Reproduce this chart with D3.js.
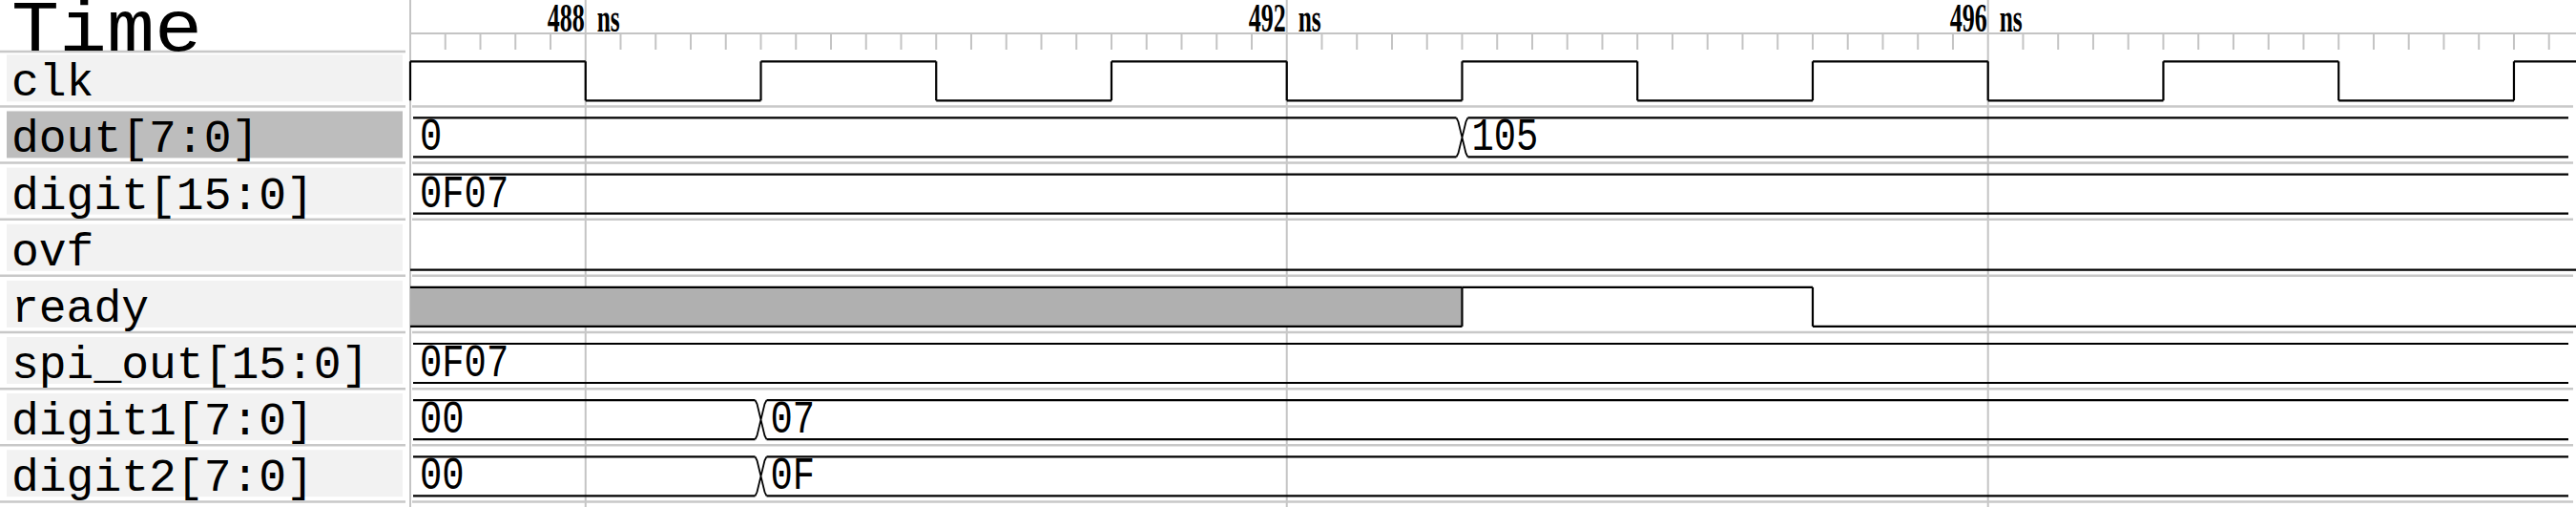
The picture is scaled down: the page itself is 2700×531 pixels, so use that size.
<!DOCTYPE html>
<html>
<head>
<meta charset="utf-8">
<script src="https://cdn.jsdelivr.net/npm/d3@7"></script>
<style>
  html, body { margin: 0; padding: 0; background: #fff; }
  svg { display: block; }
</style>
</head>
<body>
<svg id="chart" width="2700" height="531"></svg>
<script>
// ---- data ----
const signalNames = ["clk", "dout[7:0]", "digit[15:0]", "ovf", "ready", "spi_out[15:0]", "digit1[7:0]", "digit2[7:0]"];
const signalKinds = ["bit", "bus", "bus", "bit", "bit", "bus", "bus", "bus"];
const clkTimes   = [487, 488, 489, 490, 491, 492, 493, 494, 495, 496, 497, 498, 499];
const clkValues  = [1, 0, 1, 0, 1, 0, 1, 0, 1, 0, 1, 0, 1];
const doutTimes  = [487, 493];
const doutValues = ["0", "105"];
const digitTimes = [487];
const digitValues = ["0F07"];
const ovfTimes   = [487];
const ovfValues  = [0];
const readyTimes = [487, 493, 495];
const readyValues = ["x", 1, 0];
const spiTimes   = [487];
const spiValues  = ["0F07"];
const digit1Times = [487, 489];
const digit1Values = ["00", "07"];
const digit2Times = [487, 489];
const digit2Values = ["00", "0F"];
const majorTicks = [488, 492, 496];
const tickUnit = "ns";
const timeStart = 487;
const timeEnd = 499.354;
const minorStep = 0.2;
const selectedSignal = "dout[7:0]";

const signalTimes = [clkTimes, doutTimes, digitTimes, ovfTimes, readyTimes, spiTimes, digit1Times, digit2Times];
const signalValues = [clkValues, doutValues, digitValues, ovfValues, readyValues, spiValues, digit1Values, digit2Values];

// ---- layout ----
const W = 2700, H = 531;
const divX = 430;
const headerH = 52.3;
const rowH = 59.14;
const svg = d3.select("#chart");
const x = d3.scaleLinear().domain([timeStart, timeEnd]).range([divX, W]);
const rowTop = i => headerH + i * rowH;
const yHi = i => rowTop(i) + 12;
const yLo = i => rowTop(i) + 53;

const gridCol = "#c4c4c4";
const sepCol = "#c8c8c8";

// label backgrounds
signalNames.forEach((name, i) => {
  svg.append("rect")
    .attr("x", 7).attr("y", rowTop(i) + 5)
    .attr("width", 415).attr("height", 49)
    .attr("fill", name === selectedSignal ? "#bdbdbd" : "#f2f2f2");
});

// vertical major gridlines
svg.selectAll("line.grid").data(majorTicks).enter().append("line")
  .attr("class", "grid")
  .attr("x1", d => x(d)).attr("x2", d => x(d))
  .attr("y1", 0).attr("y2", H)
  .attr("stroke", gridCol).attr("stroke-width", 2);

// divider
svg.append("line").attr("x1", divX).attr("x2", divX).attr("y1", 0).attr("y2", H)
  .attr("stroke", gridCol).attr("stroke-width", 2);

// ruler line
svg.append("line").attr("x1", divX).attr("x2", W).attr("y1", 35).attr("y2", 35)
  .attr("stroke", gridCol).attr("stroke-width", 2);

// minor ticks
const nMinor = Math.floor((timeEnd - timeStart) / minorStep);
const minorTicks = d3.range(1, nMinor + 1).map(k => timeStart + k * minorStep)
  .filter(t => !majorTicks.some(m => Math.abs(m - t) < 1e-6));
svg.selectAll("line.minor").data(minorTicks).enter().append("line")
  .attr("class", "minor")
  .attr("x1", d => x(d)).attr("x2", d => x(d))
  .attr("y1", 36).attr("y2", 52)
  .attr("stroke", gridCol).attr("stroke-width", 2);

// major tick labels
majorTicks.forEach(t => {
  const label = String(t);
  svg.append("text")
    .attr("x", x(t) - 40).attr("y", 33)
    .attr("textLength", 13 * label.length)
    .attr("lengthAdjust", "spacingAndGlyphs")
    .attr("font-family", "Liberation Serif, serif")
    .attr("font-weight", "bold")
    .attr("font-size", 42)
    .attr("fill", "#000")
    .text(label);
  svg.append("text")
    .attr("x", x(t) + 12).attr("y", 33)
    .attr("textLength", 24)
    .attr("lengthAdjust", "spacingAndGlyphs")
    .attr("font-family", "Liberation Serif, serif")
    .attr("font-weight", "bold")
    .attr("font-size", 42)
    .attr("fill", "#000")
    .text(tickUnit);
});

// Header separator (left)
svg.append("line").attr("x1", 0).attr("x2", 425).attr("y1", 54).attr("y2", 54)
  .attr("stroke", sepCol).attr("stroke-width", 2.5);

// row separators
for (let i = 1; i <= signalNames.length; i++) {
  const y = rowTop(i);
  svg.append("line").attr("x1", 0).attr("x2", 425).attr("y1", y).attr("y2", y)
    .attr("stroke", sepCol).attr("stroke-width", 2.5);
  svg.append("line").attr("x1", 432).attr("x2", 2697).attr("y1", y).attr("y2", y)
    .attr("stroke", sepCol).attr("stroke-width", 2.5);
}

// Time header
svg.append("text")
  .attr("x", 12).attr("y", 53)
  .attr("textLength", 200)
  .attr("lengthAdjust", "spacingAndGlyphs")
  .attr("font-family", "Liberation Mono, Courier New, monospace")
  .attr("font-size", 76)
  .attr("fill", "#000")
  .text("Time");

// signal labels
signalNames.forEach((name, i) => {
  svg.append("text")
    .attr("x", 12).attr("y", rowTop(i) + 48)
    .attr("font-family", "Liberation Mono, Courier New, monospace")
    .attr("font-size", 48)
    .attr("fill", "#000")
    .text(name);
});

// waveforms
const wave = svg.append("g").attr("fill", "none").attr("stroke", "#000").attr("stroke-width", 2.2);
const xEndBit = W;
const xEndBus = 2692;

signalNames.forEach((name, i) => {
  const times = signalTimes[i];
  const vals = signalValues[i];
  const hi = yHi(i), lo = yLo(i);
  if (signalKinds[i] === "bit") {
    vals.forEach((v, k) => {
      const x0 = x(times[k]);
      const x1 = k + 1 < times.length ? x(times[k + 1]) : xEndBit;
      if (v === "x") {
        svg.insert("rect", "g")
          .attr("x", x0).attr("y", hi).attr("width", x1 - x0).attr("height", lo - hi)
          .attr("fill", "#b0b0b0");
        wave.append("line").attr("x1", x0).attr("x2", x1).attr("y1", hi).attr("y2", hi);
        wave.append("line").attr("x1", x0).attr("x2", x1).attr("y1", lo).attr("y2", lo);
      } else {
        const y = v === 1 ? hi : lo;
        wave.append("line").attr("x1", x0).attr("x2", x1).attr("y1", y).attr("y2", y);
      }
      if (k > 0 || v === 1) {
        wave.append("line").attr("x1", x0).attr("x2", x0).attr("y1", hi).attr("y2", lo);
      }
    });
  } else {
    vals.forEach((v, k) => {
      const x0 = k === 0 ? x(times[k]) + 3 : x(times[k]) + 6;
      const x1 = k + 1 < times.length ? x(times[k + 1]) - 6 : xEndBus;
      wave.append("line").attr("x1", x0).attr("x2", x1).attr("y1", hi).attr("y2", hi);
      wave.append("line").attr("x1", x0).attr("x2", x1).attr("y1", lo).attr("y2", lo);
      if (k > 0) {
        const xt = x(times[k]);
        wave.append("path").attr("stroke-width", 1.8)
          .attr("d", `M${xt - 6},${hi} L${xt - 4},${hi + 4} L${xt + 4},${lo - 4} L${xt + 6},${lo} M${xt - 6},${lo} L${xt - 4},${lo - 4} L${xt + 4},${hi + 4} L${xt + 6},${hi}`);
      }
      svg.append("text")
        .attr("x", x(times[k]) + 10).attr("y", rowTop(i) + 46)
        .attr("textLength", 23.3 * String(v).length)
        .attr("lengthAdjust", "spacingAndGlyphs")
        .attr("font-family", "Liberation Mono, monospace")
        .attr("font-size", 48)
        .attr("fill", "#000")
        .text(v);
    });
  }
});
</script>
</body>
</html>
